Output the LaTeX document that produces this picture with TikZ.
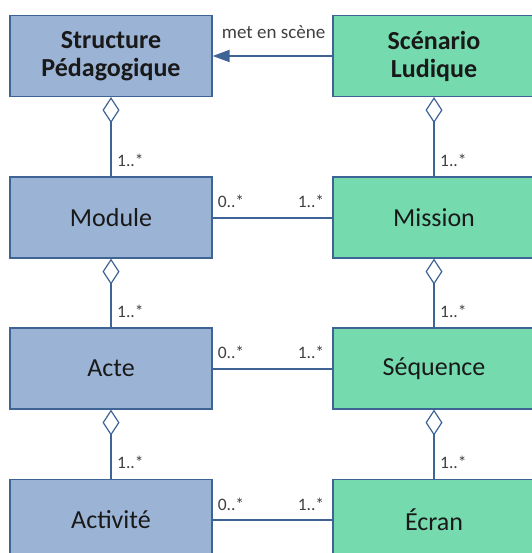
\documentclass[tikz,border=0pt]{standalone}
\usepackage{fontspec}
\setmainfont{Carlito}
\usetikzlibrary{arrows.meta}
\definecolor{bluefill}{RGB}{155,179,212}
\definecolor{greenfill}{RGB}{117,219,174}
\definecolor{edgec}{RGB}{62,100,150}
\definecolor{textc}{RGB}{25,25,25}
\definecolor{labelc}{RGB}{64,64,64}
\tikzset{
  box/.style={rectangle, draw=edgec, line width=1.2pt, minimum width=202pt, minimum height=81pt,
    align=center, text=textc, inner sep=0pt, font=\fontsize{26}{28}\selectfont},
  lbox/.style={box, fill=bluefill},
  rbox/.style={box, fill=greenfill},
  conn/.style={draw=edgec, line width=1.3pt},
  hconn/.style={draw=edgec, line width=2pt},
  agg/.style={conn, {Diamond[length=26pt,width=17pt,fill=white,line width=1.2pt]}-},
  mult/.style={text=labelc, inner sep=0pt, font=\fontsize{17.5}{20}\selectfont},
  rel/.style={text=labelc, inner sep=0pt, font=\fontsize{19}{22}\selectfont}
}
\begin{document}
\begin{tikzpicture}[x=1pt,y=-1pt]
\useasboundingbox (0,0) rectangle (531,553);
% left column
\node[lbox, font=\fontsize{26}{28}\selectfont\bfseries] (sp) at (111,56) {Structure\\Pédagogique};
\node[lbox] (mod) at (111,217.5) {Module};
\node[lbox] (act) at (111,368.5) {Acte};
\node[lbox] (acv) at (111,520) {Activité};
% right column
\node[rbox, font=\fontsize{26}{28}\selectfont\bfseries] (sl) at (434,56) {Scénario\\Ludique};
\node[rbox] (mis) at (434,217.5) {Mission};
\node[rbox] (seq) at (434,368.5) {Séquence};
\node[rbox] (ecr) at (434,520) {Écran};
% top relation
\draw[hconn, -{Triangle[length=17pt,width=12pt]}] (sl.west) -- (sp.east);
\node[rel, anchor=base east] (me) at ([xshift=-7pt,yshift=17pt]sl.west) {met en scène};
% aggregations
\draw[agg] (sp.south) -- (mod.north);
\draw[agg] (mod.south) -- (act.north);
\draw[agg] (act.south) -- (acv.north);
\draw[agg] (sl.south) -- (mis.north);
\draw[agg] (mis.south) -- (seq.north);
\draw[agg] (seq.south) -- (ecr.north);
\node[mult, anchor=base west] (l1) at ([xshift=6pt,yshift=10pt]mod.north) {1..*};
\node[mult, anchor=base west] (l2) at ([xshift=6pt,yshift=10pt]act.north) {1..*};
\node[mult, anchor=base west] (l3) at ([xshift=6pt,yshift=10pt]acv.north) {1..*};
\node[mult, anchor=base west] (r1) at ([xshift=6pt,yshift=10pt]mis.north) {1..*};
\node[mult, anchor=base west] (r2) at ([xshift=6pt,yshift=10pt]seq.north) {1..*};
\node[mult, anchor=base west] (r3) at ([xshift=6pt,yshift=10pt]ecr.north) {1..*};
% associations
\draw[hconn] (mod.east) -- (mis.west);
\draw[hconn] (act.east) -- (seq.west);
\draw[hconn] (acv.east) -- (ecr.west);
\node[mult, anchor=base west] (a1) at ([xshift=5pt,yshift=10pt]mod.east) {0..*};
\node[mult, anchor=base east] (b1) at ([xshift=-8pt,yshift=10pt]mis.west) {1..*};
\node[mult, anchor=base west] (a2) at ([xshift=5pt,yshift=10pt]act.east) {0..*};
\node[mult, anchor=base east] (b2) at ([xshift=-8pt,yshift=10pt]seq.west) {1..*};
\node[mult, anchor=base west] (a3) at ([xshift=5pt,yshift=10pt]acv.east) {0..*};
\node[mult, anchor=base east] (b3) at ([xshift=-8pt,yshift=10pt]ecr.west) {1..*};
\end{tikzpicture}
\end{document}
